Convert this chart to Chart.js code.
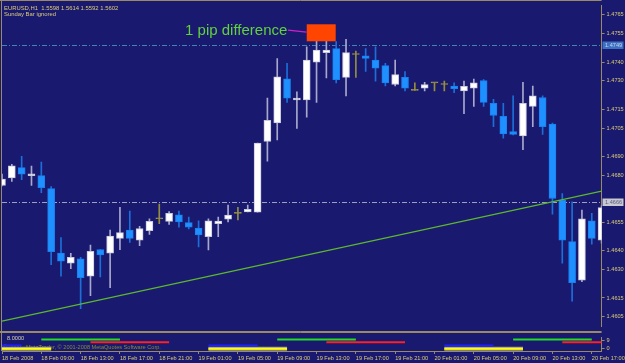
<!DOCTYPE html>
<html><head><meta charset="utf-8">
<script src="https://cdn.jsdelivr.net/npm/chart.js@4/dist/chart.umd.min.js"></script>
<style>
html,body{margin:0;padding:0;background:#191970;width:625px;height:363px;overflow:hidden}
canvas{display:block;position:absolute;left:0}
#c1{top:0}#c2{top:332px}
</style></head><body>
<canvas id="c1" width="625" height="332"></canvas>
<canvas id="c2" width="625" height="31"></canvas>
<script>
// ---- data ----
const categories = [
"18 Feb 05:00","18 Feb 06:00","18 Feb 07:00","18 Feb 08:00","18 Feb 09:00","18 Feb 10:00","18 Feb 11:00","18 Feb 12:00","18 Feb 13:00","18 Feb 14:00","18 Feb 15:00","18 Feb 16:00","18 Feb 17:00","18 Feb 18:00","18 Feb 19:00","18 Feb 20:00","18 Feb 21:00","18 Feb 22:00","18 Feb 23:00",
"19 Feb 00:00","19 Feb 01:00","19 Feb 02:00","19 Feb 03:00","19 Feb 04:00","19 Feb 05:00","19 Feb 06:00","19 Feb 07:00","19 Feb 08:00","19 Feb 09:00","19 Feb 10:00","19 Feb 11:00","19 Feb 12:00","19 Feb 13:00","19 Feb 14:00","19 Feb 15:00","19 Feb 16:00","19 Feb 17:00","19 Feb 18:00","19 Feb 19:00","19 Feb 20:00","19 Feb 21:00","19 Feb 22:00","19 Feb 23:00",
"20 Feb 00:00","20 Feb 01:00","20 Feb 02:00","20 Feb 03:00","20 Feb 04:00","20 Feb 05:00","20 Feb 06:00","20 Feb 07:00","20 Feb 08:00","20 Feb 09:00","20 Feb 10:00","20 Feb 11:00","20 Feb 12:00","20 Feb 13:00","20 Feb 14:00","20 Feb 15:00","20 Feb 16:00","20 Feb 17:00","20 Feb 18:00"];
const opens  = [1.46746,1.46786,1.46841,1.46798,1.46798,1.46729,1.46388,1.46335,1.46357,1.46266,1.46407,1.46387,1.46466,1.46510,1.46456,1.46507,1.46570,1.46556,1.46590,1.46549,1.46521,1.46475,1.46544,1.46567,1.46598,1.46606,1.46604,1.46979,1.47077,1.47311,1.47199,1.47199,1.47399,1.47450,1.47471,1.47319,1.47440,1.47433,1.47411,1.47381,1.47281,1.47319,1.47250,1.47261,1.47290,1.47281,1.47273,1.47247,1.47261,1.47302,1.47181,1.47112,1.47031,1.47008,1.47165,1.47212,1.47071,1.46668,1.46449,1.46245,1.46559,1.46456];
const highs  = [1.46806,1.46858,1.46901,1.46849,1.46870,1.46740,1.46470,1.46387,1.46366,1.46430,1.46407,1.46510,1.46630,1.46611,1.46530,1.46570,1.46647,1.46608,1.46611,1.46578,1.46559,1.46570,1.46578,1.46642,1.46630,1.46642,1.46971,1.47209,1.47419,1.47393,1.47242,1.47480,1.47561,1.47572,1.47508,1.47520,1.47458,1.47471,1.47480,1.47393,1.47411,1.47350,1.47290,1.47293,1.47290,1.47299,1.47290,1.47299,1.47310,1.47307,1.47202,1.47181,1.47221,1.47293,1.47273,1.47221,1.47076,1.46703,1.46660,1.46616,1.46599,1.46640];
const lows   = [1.46744,1.46767,1.46777,1.46746,1.46708,1.46326,1.46266,1.46305,1.46093,1.46162,1.46262,1.46205,1.46406,1.46444,1.46427,1.46487,1.46544,1.46540,1.46525,1.46516,1.46421,1.46404,1.46475,1.46553,1.46564,1.46606,1.46604,1.46875,1.46988,1.47186,1.47048,1.47108,1.47186,1.47316,1.47290,1.47221,1.47319,1.47350,1.47299,1.47273,1.47273,1.47247,1.47250,1.47247,1.47247,1.47247,1.47238,1.47126,1.47165,1.47165,1.47057,1.46997,1.47014,1.46936,1.47057,1.47017,1.46594,1.46335,1.46133,1.46237,1.46435,1.46440];
const closes = [1.46780,1.46850,1.46806,1.46808,1.46734,1.46396,1.46345,1.46366,1.46257,1.46397,1.46378,1.46478,1.46496,1.46466,1.46518,1.46556,1.46570,1.46598,1.46553,1.46525,1.46484,1.46559,1.46558,1.46589,1.46598,1.46620,1.46971,1.47091,1.47321,1.47209,1.47209,1.47411,1.47463,1.47463,1.47307,1.47450,1.47440,1.47419,1.47368,1.47290,1.47333,1.47261,1.47250,1.47281,1.47290,1.47281,1.47259,1.47271,1.47290,1.47186,1.47117,1.47019,1.47017,1.47181,1.47221,1.47057,1.46677,1.46456,1.46231,1.46570,1.46466,1.46629];
const priceTicks = [1.4765,1.4755,1.4740,1.4730,1.4715,1.4705,1.4690,1.4680,1.4655,1.4640,1.4630,1.4615,1.4605];
const timeTickLabels = ["18 Feb 2008","18 Feb 09:00","18 Feb 13:00","18 Feb 17:00","18 Feb 21:00","19 Feb 01:00","19 Feb 05:00","19 Feb 09:00","19 Feb 13:00","19 Feb 17:00","19 Feb 21:00","20 Feb 01:00","20 Feb 05:00","20 Feb 09:00","20 Feb 13:00","20 Feb 17:00"];
const askLevel = 1.4749, bidLevel = 1.4666;
const trendStartPrice = 1.46027, trendEndPrice = 1.46716;
// session indicator (bar index ranges) and levels
const greenSessions  = [[4,12],[28,36],[52,60]];
const redSessions    = [[9,17],[33,41],[57,61]];
const blueSessions   = [[0,2],[21,26],[45,50]];
const yellowSessions = [[0,5],[21,29],[45,53]];
const sessionLevels = {green:10, red:7, blue:3.5, yellow:0};
const indicatorTicks = [9,0];
const indicatorLabel = "8.0000";
const titleLine1 = "EURUSD,H1  1.5598 1.5614 1.5592 1.5602";
const titleLine2 = "Sunday Bar ignored";
const noteText = "1 pip difference";
const copyright = "\u00A9 2000 - MetaTrader, \u00A9 2001-2008 MetaQuotes Software Corp.";

// ---- styles ----
const BG = '#191970', FRAME = '#9a8a64', TXT = '#dccb78';
const FONT = '"Liberation Sans", Arial, sans-serif';
Chart.defaults.font.family = FONT;

const n = categories.length;
const bodies = opens.map((o,i)=>[o, closes[i]]);
const wicks = lows.map((l,i)=>[l, highs[i]]);
const kind = opens.map((o,i)=> closes[i]>o ? 'up' : closes[i]<o ? 'dn' : 'doji');
const bodyFill = kind.map(k=> k==='up' ? '#ffffff' : k==='dn' ? '#1e90ff' : '#9c9640');
const bodyBorder = kind.map(k=> k==='up' ? '#c8c8dc' : k==='dn' ? '#1a80f0' : '#9c9640');
const wickCol = kind.map(k=> k==='up' ? '#a8a8cc' : k==='dn' ? '#1c6fd8' : '#948e3c');
const trend = categories.map((c,i)=> i===0 ? trendStartPrice : (i===n-1 ? trendEndPrice : null));

const frame1 = {
  id:'frame1',
  beforeDraw(c){ const ctx=c.ctx; ctx.save(); ctx.fillStyle=BG; ctx.fillRect(0,0,c.width,c.height); ctx.restore(); },
  beforeDatasetsDraw(c){
    const ctx=c.ctx, y=c.scales.y, a=c.chartArea;
    ctx.save();
    ctx.lineWidth=1;
    ctx.setLineDash([5,2,1,2]);
    ctx.strokeStyle='#3f86b0';
    let py=Math.round(y.getPixelForValue(askLevel))+0.5;
    ctx.beginPath(); ctx.moveTo(a.left,py); ctx.lineTo(a.right,py); ctx.stroke();
    ctx.strokeStyle='#a0a0c0';
    py=Math.round(y.getPixelForValue(bidLevel))+0.5;
    ctx.beginPath(); ctx.moveTo(a.left,py); ctx.lineTo(a.right,py); ctx.stroke();
    ctx.restore();
  },
  afterDatasetsDraw(c){
    const ctx=c.ctx, x=c.scales.x, y=c.scales.y;
    ctx.save();
    const bx1=x.getPixelForValue(31), bx2=x.getPixelForValue(34)-0.5;
    const by1=y.getPixelForValue(1.4760), by2=y.getPixelForValue(1.4751);
    ctx.fillStyle='#ff4500';
    ctx.fillRect(bx1,by1,bx2-bx1,by2-by1);
    ctx.strokeStyle='#d020c8'; ctx.lineWidth=1.3;
    ctx.beginPath();
    ctx.moveTo(x.getPixelForValue(29.1), y.getPixelForValue(1.47569));
    ctx.lineTo(x.getPixelForValue(30.98), y.getPixelForValue(1.47559));
    ctx.stroke();
    ctx.fillStyle='#62d13c'; ctx.font='15px '+FONT; ctx.textBaseline='alphabetic'; ctx.textAlign='left';
    ctx.fillText(noteText, x.getPixelForValue(18.62), y.getPixelForValue(1.47541));
    ctx.restore();
  },
  afterDraw(c){
    const ctx=c.ctx, y=c.scales.y, a=c.chartArea;
    ctx.save();
    ctx.strokeStyle=FRAME; ctx.lineWidth=1;
    ctx.beginPath();
    ctx.moveTo(0,0.5); ctx.lineTo(a.right,0.5);
    ctx.moveTo(1.5,0); ctx.lineTo(1.5,c.height);
    ctx.moveTo(0,c.height-0.5); ctx.lineTo(a.right,c.height-0.5);
    ctx.stroke();
    ctx.fillStyle=TXT; ctx.font='5.9px '+FONT; ctx.textAlign='left'; ctx.textBaseline='alphabetic';
    ctx.fillText(titleLine1,4,9.5);
    ctx.fillText(titleLine2,4,15.5);
    const tag=(v,fill,col)=>{
      const py=Math.round(y.getPixelForValue(v));
      ctx.fillStyle=fill; ctx.fillRect(602.5,py-3.5,21,7.5);
      ctx.fillStyle=col; ctx.font='5.6px '+FONT; ctx.textBaseline='middle';
      ctx.fillText(v.toFixed(4),605,py+0.5);
    };
    tag(askLevel,'#3c70c0','#c8d4f0');
    tag(bidLevel,'#c8c8d0','#5a5a80');
    ctx.restore();
  }
};

new Chart(document.getElementById('c1'), {
  type:'bar',
  data:{ labels:categories, datasets:[
    {type:'line', data:trend, spanGaps:true, borderColor:'#5cb82c', borderWidth:1.2, pointRadius:0, order:0},
    {data:bodies, backgroundColor:bodyFill, borderColor:bodyBorder, borderWidth:1, borderSkipped:false, barThickness:7, minBarLength:1, grouped:false, order:1},
    {data:wicks, backgroundColor:wickCol, borderWidth:0, barThickness:1, grouped:false, order:2}
  ]},
  options:{
    responsive:false, animation:false, devicePixelRatio:1,
    layout:{padding:{left:2,top:2,right:0,bottom:1}},
    plugins:{legend:{display:false}, tooltip:{enabled:false}},
    scales:{
      x:{type:'category', display:false, offset:false, grid:{offset:false}},
      y:{position:'right', min:1.459982, max:1.477003,
        afterBuildTicks:s=>{ s.ticks = priceTicks.map(v=>({value:v})); },
        afterFit:s=>{ s.width = 23.4; },
        ticks:{autoSkip:false, color:TXT, font:{size:5.6}, padding:2, callback:v=>Number(v).toFixed(4)},
        grid:{drawOnChartArea:false, drawTicks:true, tickLength:3, color:FRAME},
        border:{display:true, color:FRAME, width:1}
      }
    }
  },
  plugins:[frame1]
});

// ---- indicator panel ----
function sessionData(ranges, level){
  const d = categories.map(()=>null);
  ranges.forEach(r=>{ for(let i=r[0];i<=r[1];i++) d[i]=level; });
  return d;
}
const frame2 = {
  id:'frame2',
  beforeDraw(c){ const ctx=c.ctx; ctx.save(); ctx.fillStyle=BG; ctx.fillRect(0,0,c.width,c.height); ctx.restore(); },
  beforeDatasetsDraw(c){
    const ctx=c.ctx;
    ctx.save();
    ctx.fillStyle='#8a8a30'; ctx.font='5.6px '+FONT; ctx.textBaseline='alphabetic'; ctx.textAlign='left';
    ctx.fillText(copyright,3,16.5);
    ctx.fillStyle='#d8d0b0';
    ctx.fillText(indicatorLabel,7,8);
    ctx.restore();
  },
  afterDraw(c){
    const ctx=c.ctx, a=c.chartArea;
    ctx.save(); ctx.strokeStyle=FRAME; ctx.lineWidth=1;
    ctx.beginPath();
    ctx.moveTo(0,0.5); ctx.lineTo(a.right,0.5);
    ctx.moveTo(1.5,0); ctx.lineTo(1.5,a.bottom);
    ctx.stroke(); ctx.restore();
  }
};
new Chart(document.getElementById('c2'), {
  type:'line',
  data:{ labels:categories, datasets:[
    {data:sessionData(greenSessions,sessionLevels.green), borderColor:'#22dd22', borderWidth:2, pointRadius:0, order:0},
    {data:sessionData(redSessions,sessionLevels.red), borderColor:'#ff2020', borderWidth:2, pointRadius:0, order:1},
    {data:sessionData(blueSessions,sessionLevels.blue), borderColor:'#2020ff', borderWidth:2, pointRadius:0, order:2},
    {data:sessionData(yellowSessions,sessionLevels.yellow), borderColor:'#ffff00', borderWidth:2, pointRadius:0, order:3},
    {data:sessionData(yellowSessions,sessionLevels.yellow), borderColor:'#9a9a9a', borderWidth:4, pointRadius:0, order:4}
  ]},
  options:{
    responsive:false, animation:false, devicePixelRatio:1,
    layout:{padding:{left:2,top:1,right:0,bottom:0}},
    plugins:{legend:{display:false}, tooltip:{enabled:false}},
    scales:{
      x:{type:'category', offset:false,
        afterFit:s=>{ s.height = 12; },
        ticks:{autoSkip:false, maxRotation:0, minRotation:0, align:'start', color:TXT, font:{size:5.6}, padding:1,
          callback:(v,i)=> i%4===0 ? timeTickLabels[i/4] : ''},
        grid:{drawOnChartArea:false, drawTicks:true, tickLength:3, offset:false,
          color:ctx=> ctx.index%4===0 ? FRAME : 'rgba(0,0,0,0)'},
        border:{display:true, color:FRAME, width:1}
      },
      y:{position:'right', min:-2.45, max:12.27,
        afterBuildTicks:s=>{ s.ticks = indicatorTicks.map(v=>({value:v})); },
        afterFit:s=>{ s.width = 23.4; },
        ticks:{autoSkip:false, color:TXT, font:{size:5.6}, padding:2},
        grid:{drawOnChartArea:false, drawTicks:true, tickLength:3, color:FRAME},
        border:{display:true, color:FRAME, width:1}
      }
    }
  },
  plugins:[frame2]
});
</script>
</body></html>
